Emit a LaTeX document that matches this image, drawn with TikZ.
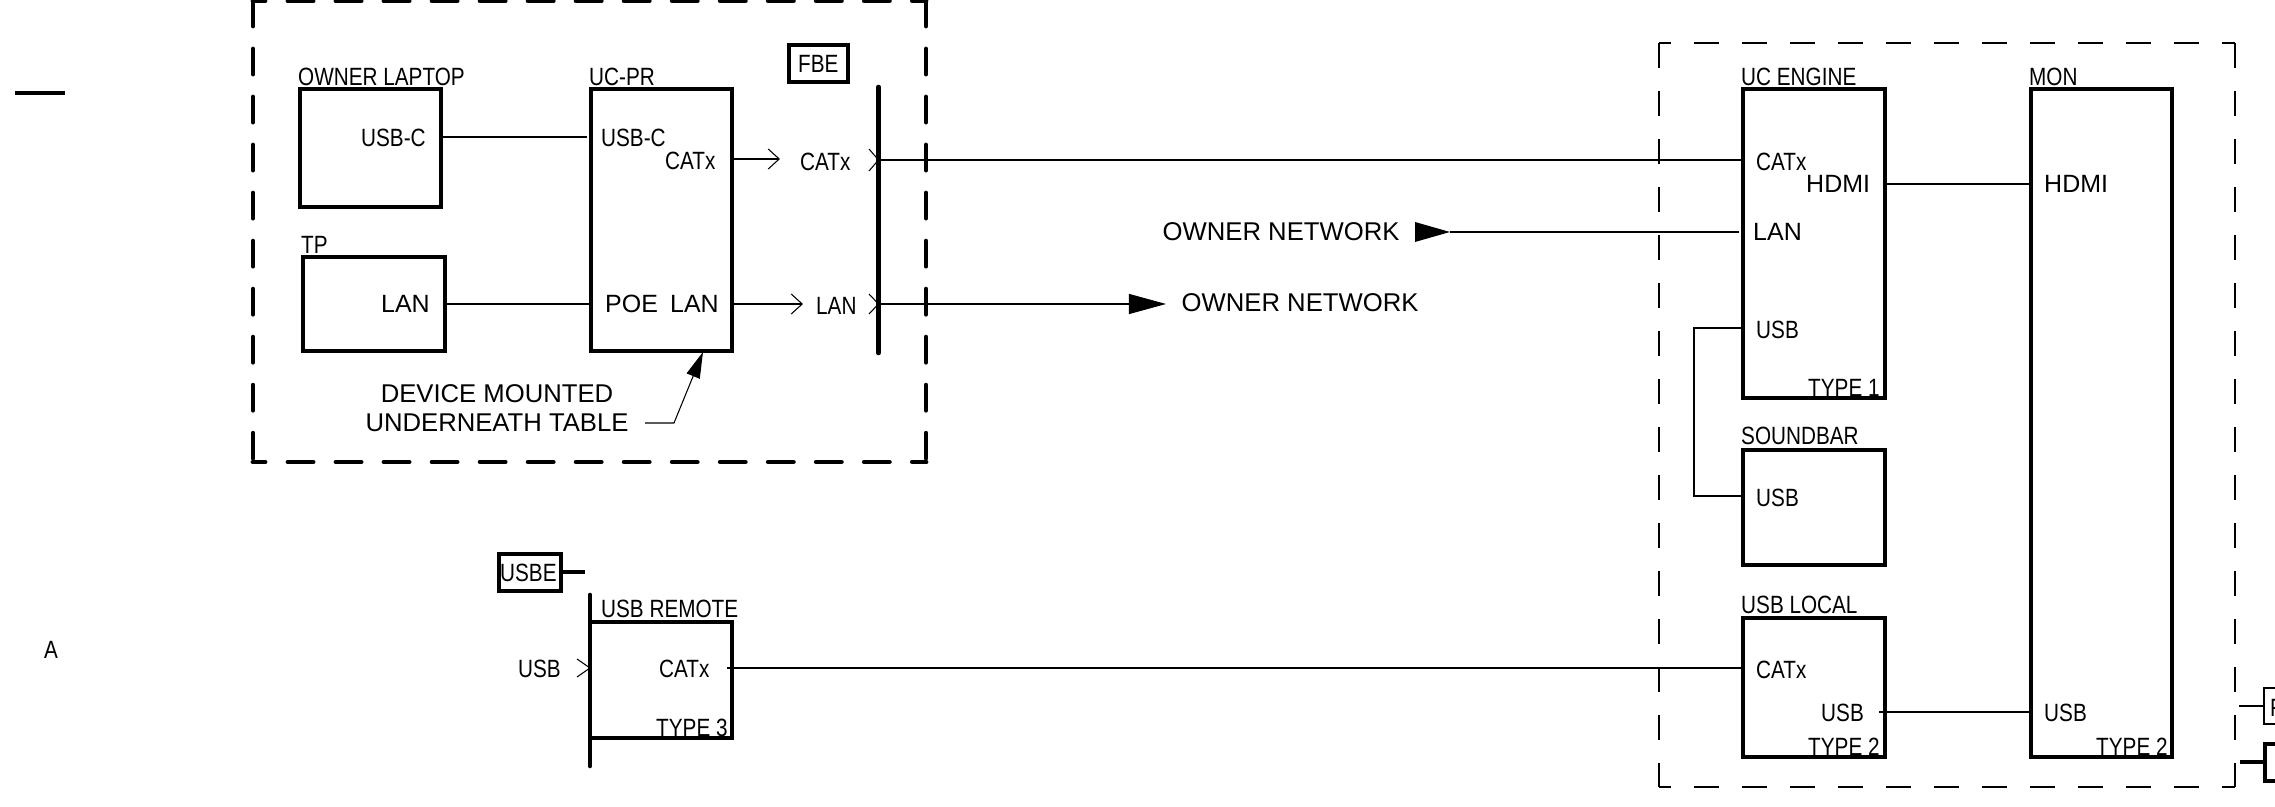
\documentclass[tikz,border=0pt]{standalone}
\usepackage{fontspec}
\setmainfont{Liberation Sans}
\newfontfamily\narrowfont[FakeStretch=.83]{Liberation Sans}
\usepackage{tikz}
\usetikzlibrary{arrows.meta,positioning}

\tikzset{
  devbox/.style={draw,line width=1.15pt,inner sep=0pt,outer sep=0pt,anchor=north west},
  tagbox/.style={draw,line width=1pt,inner sep=0pt,outer sep=0pt,anchor=north west},
  tagthin/.style={draw,line width=.7pt,inner sep=0pt,outer sep=0pt,anchor=north west},
  labeltext/.style={inner sep=0pt,anchor=base west,xshift=-.015cm,font=\narrowfont\fontsize{7.1pt}{8pt}\selectfont},
  porttext/.style={inner sep=0pt,anchor=base west,xshift=-.015cm,font=\fontsize{7.1pt}{8pt}\selectfont},
  notetext/.style={inner sep=0pt,anchor=base,font=\fontsize{7.3pt}{8pt}\selectfont},
  wire/.style={line width=.3pt},
  barb/.style={wire,-{Straight Barb[length=.11cm,width=.2cm]}},
  bigtip/.style={wire,-{Triangle[length=.37cm,width=.2cm]}},
  bar/.style={line width=1.3pt,line cap=round},
  ownerroom/.style={line width=1.4pt,line cap=round,dash pattern=on .25cm off .23cm},
  monroom/.style={line width=.7pt,dash pattern=on .25cm off .23cm},
}

\begin{document}
\begin{tikzpicture}[x=.01cm,y=-.01cm]
  \clip (0,0) rectangle (2275,807);

  % owner room
  \draw[ownerroom] (253,1)--(253,462);
  \draw[ownerroom] (926,1)--(926,462);
  \draw[ownerroom,dash phase=.13cm] (253,1)--(926,1);
  \draw[ownerroom,dash phase=.13cm] (253,462)--(926,462);

  % display room
  \draw[monroom] (1659,43)--(1659,787);
  \draw[monroom] (2235,43)--(2235,787);
  \draw[monroom,dash phase=.13cm] (1659,43)--(2235,43);
  \draw[monroom,dash phase=.13cm] (1659,787)--(2235,787);

  % devices
  \node[devbox,minimum width=1.41cm,minimum height=1.18cm] (laptop) at (300,89) {};
  \node[devbox,minimum width=1.42cm,minimum height=.94cm] (tp) at (303,257) {};
  \node[devbox,minimum width=1.41cm,minimum height=2.62cm] (ucpr) at (591,89) {};
  \node[devbox,minimum width=1.42cm,minimum height=3.09cm] (engine) at (1743,89) {};
  \node[devbox,minimum width=1.41cm,minimum height=6.68cm] (mon) at (2031,89) {};
  \node[devbox,minimum width=1.42cm,minimum height=1.15cm] (soundbar) at (1743,450) {};
  \node[devbox,minimum width=1.42cm,minimum height=1.39cm] (usblocal) at (1743,618) {};
  \node[devbox,minimum width=1.42cm,minimum height=1.16cm] (usbremote) at (590,622) {};
  \node[tagbox,minimum width=.59cm,minimum height=.37cm] (fbe) at (789,45) {};
  \node[tagbox,minimum width=.62cm,minimum height=.37cm] (usbe) at (499,554) {};
  \node[tagthin,minimum width=.30cm,minimum height=.36cm] (tagup) at (2264,688) {};
  \node[devbox,minimum width=.30cm,minimum height=.37cm] (tagdown) at (2265,744) {};

  % bars
  \coordinate (fbetop) at (878.5,87);
  \coordinate (fbebot) at (878.5,353);
  \coordinate (usbetop) at (590,595);
  \coordinate (usbebot) at (590,766);
  \draw[bar] (fbetop)--(fbebot);
  \draw[bar] (usbetop)--(usbebot);
  \draw[line width=1pt] (15,93)--(65,93);

  % names
  \node[labeltext] (nlaptop) at (299,86) {OWNER LAPTOP};
  \node[labeltext] (nucpr) at (590,86) {UC-PR};
  \node[labeltext] (ntp) at (302,254) {TP};
  \node[labeltext] (nengine) at (1742,86) {UC ENGINE};
  \node[labeltext] (nmon) at (2030,86) {MON};
  \node[labeltext] (nsound) at (1742,445) {SOUNDBAR};
  \node[labeltext] (nlocal) at (1742,614) {USB LOCAL};
  \node[labeltext] (nremote) at (602,618) {USB REMOTE};
  \node[labeltext] (nfbe) at (799,73) {FBE};
  \node[labeltext] (nusbe) at (501,582) {USBE};
  \node[labeltext] (na) at (45,659) {A};
  \node[labeltext] (ntagup) at (2271,717) {F};
  \node[labeltext] (ttypeA) at (1809,397) {TYPE 1};
  \node[labeltext] (ttypeB) at (1809,756) {TYPE 2};
  \node[labeltext] (ttypeC) at (2097,756) {TYPE 2};
  \node[labeltext] (ttypeD) at (657,737) {TYPE 3};

  % ports
  \node[labeltext] (plapusb) at (362,147) {USB-C};
  \node[labeltext] (pprusb) at (602,147) {USB-C};
  \node[labeltext] (pprcat) at (666,170) {CATx};
  \node[labeltext] (pfbecat) at (801,171) {CATx};
  \node[labeltext] (pfbelan) at (817,315) {LAN};
  \node[porttext] (ptplan) at (382,313) {LAN};
  \node[porttext] (pprpoe) at (606,313) {POE};
  \node[porttext] (pprlan) at (671,313) {LAN};
  \node[labeltext] (pengcat) at (1757,171) {CATx};
  \node[porttext] (penghdmi) at (1807,193) {HDMI};
  \node[porttext] (pmonhdmi) at (2045,193) {HDMI};
  \node[porttext] (penglan) at (1754,241) {LAN};
  \node[labeltext] (pengusb) at (1757,339) {USB};
  \node[labeltext] (psndusb) at (1757,507) {USB};
  \node[labeltext] (ploccat) at (1757,679) {CATx};
  \node[labeltext] (plocusb) at (1822,722) {USB};
  \node[labeltext] (pmonusb) at (2045,722) {USB};
  \node[labeltext] (premusb) at (519,678) {USB};
  \node[labeltext] (premcat) at (660,678) {CATx};

  % notes
  \node[notetext] (nunder) at (497,403) {DEVICE MOUNTED};
  \node[notetext] (ntable) at (497,432) {UNDERNEATH TABLE};
  \node[notetext,anchor=base west] (netup) at (1162,241) {OWNER NETWORK};
  \node[notetext,anchor=base west] (netlow) at (1181,312) {OWNER NETWORK};

  % connectors
  \coordinate (prusbin) at (587,137);
  \coordinate (catend) at (780,159);
  \coordinate (lanend) at (803,304);
  \coordinate (netend) at (1166,304);
  \coordinate (nettip) at (1450,232);
  \coordinate (englanin) at (1739,232);
  \coordinate (remcatout) at (727,668);
  \coordinate (locusbout) at (1879,712);
  \coordinate (usbdrop) at (1694,328);
  \coordinate (leadA) at (645,423);
  \coordinate (leadB) at (674,423);
  \coordinate (leadtip) at (703,352);
  \draw[wire] (laptop.east |- prusbin)--(prusbin);
  \draw[wire] (tp.east |- lanend)--(ucpr.west |- lanend);
  \draw[barb] (ucpr.east |- catend)--(catend);
  \draw[barb] (ucpr.east |- lanend)--(lanend);
  \draw[wire] (fbetop |- 0,160)--(engine.west |- 0,160);
  \draw[bigtip] (fbetop |- lanend)--(netend);
  \draw[wire] (englanin)--(nettip);
  \draw[wire] (engine.east |- 0,184)--(mon.west |- 0,184);
  \draw[wire] (engine.west |- usbdrop)--(usbdrop)--(usbdrop |- 0,496)--(soundbar.west |- 0,496);
  \draw[wire] (remcatout)--(usblocal.west |- remcatout);
  \draw[wire] (locusbout)--(mon.west |- locusbout);
  \draw[wire,-{Triangle[length=.26cm,width=.14cm]}] (leadA)--(leadB)--(leadtip);
  \draw[line width=1pt] (usbe.east |- 0,572)--(585,572);
  \draw[line width=.7pt] (2239,706)--(tagup.west |- 0,706);
  \draw[line width=1.15pt] (2240,762)--(tagdown.west |- 0,762);

  % network arrow, and the marks at the bars
  \fill (1415,222)--(nettip)--(1415,242)--cycle;
  \draw[wire] (869,149)--(fbetop |- 0,160)--(869,171);
  \draw[wire] (869,294)--(fbetop |- 0,304)--(869,314);
  \draw[wire] (577,659)--(usbetop |- 0,668)--(577,677);
\end{tikzpicture}
\end{document}
